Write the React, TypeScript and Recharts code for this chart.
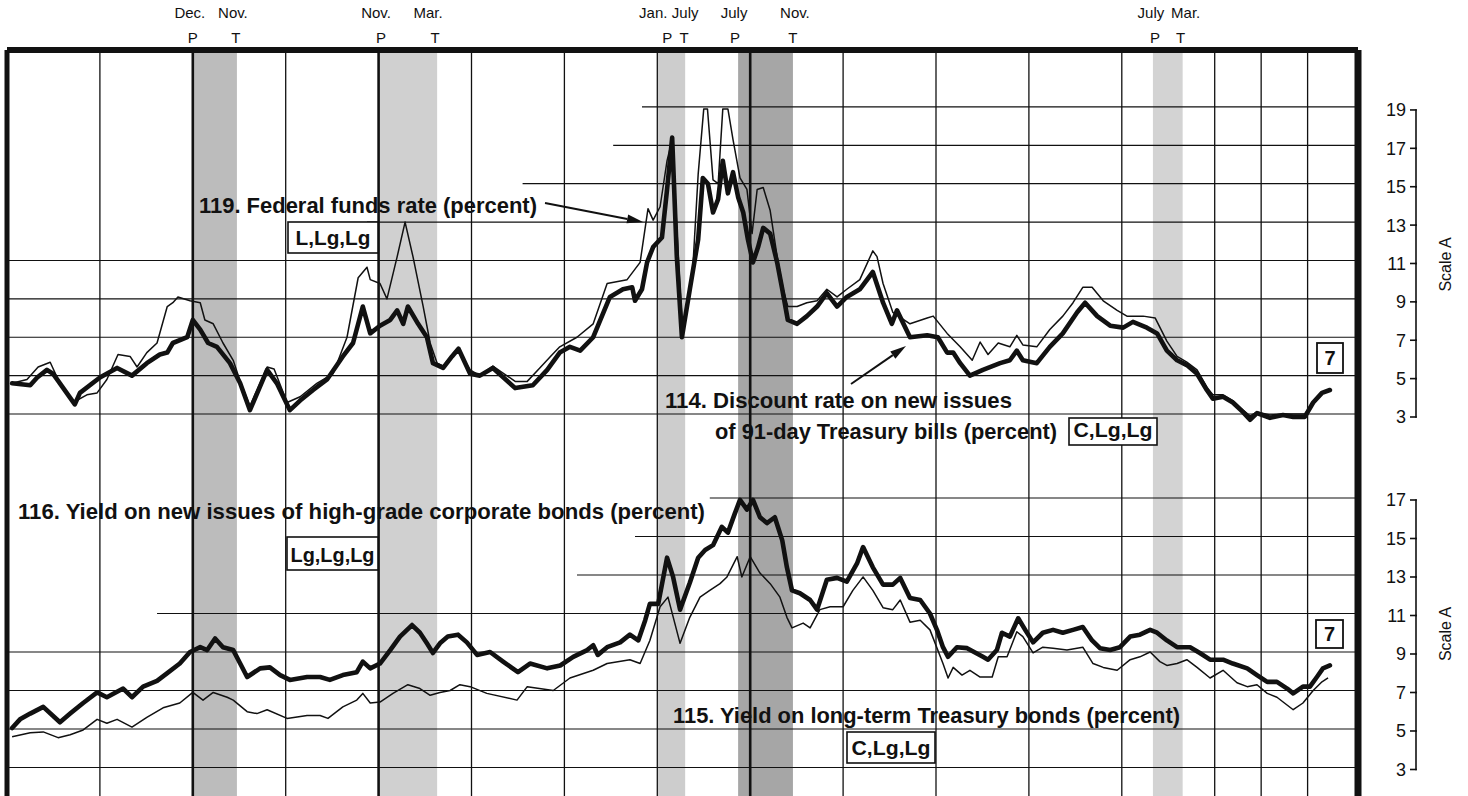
import React from 'react';
import { ComposedChart, Line, XAxis, YAxis, ReferenceLine, ReferenceArea } from 'recharts';

// ---------------- data ----------------
// dates are fractional years
const fedFundsDates = [
  1966.11, 1966.43, 1966.67, 1966.93, 1967.08, 1967.42, 1967.72, 1967.94, 1968.15, 1968.39,
  1968.65, 1968.8, 1969.01, 1969.23, 1969.45, 1969.57, 1969.68, 1969.94, 1970.16, 1970.26,
  1970.44, 1970.65, 1970.87, 1971.02, 1971.23, 1971.6, 1971.75, 1972.03, 1972.31, 1972.67,
  1973.02, 1973.32, 1973.56, 1973.75, 1973.82, 1974.03, 1974.18, 1974.4, 1974.57, 1974.74,
  1974.96, 1975.11, 1975.26, 1975.39, 1975.69, 1975.97, 1976.18, 1976.46, 1976.94, 1977.2,
  1977.47, 1977.7, 1977.9, 1978.27, 1978.62, 1978.92, 1979.35, 1979.63, 1979.8, 1979.91,
  1980.06, 1980.21, 1980.32, 1980.49, 1980.55, 1980.75, 1980.88, 1981.0, 1981.08, 1981.2,
  1981.31, 1981.41, 1981.52, 1981.63, 1981.78, 1981.93, 1982.04, 1982.15, 1982.28, 1982.43,
  1982.58, 1982.71, 1982.81, 1983.01, 1983.22, 1983.44, 1983.65, 1983.87, 1984.08, 1984.36,
  1984.64, 1984.73, 1984.86, 1985.07, 1985.44, 1985.81, 1985.94, 1986.24, 1986.52, 1986.78,
  1986.95, 1987.12, 1987.34, 1987.59, 1987.74, 1987.87, 1988.17, 1988.45, 1988.73, 1988.95,
  1989.16, 1989.36, 1989.6, 1989.9, 1990.11, 1990.46, 1990.72, 1990.97, 1991.19, 1991.4,
  1991.62, 1991.83, 1991.96, 1992.18, 1992.39, 1992.61, 1992.76, 1992.91, 1993.19, 1993.47,
  1993.69, 1993.94, 1994.12, 1994.31, 1994.48,
];
const fedFundsRate = [
  4.6, 4.8, 5.45, 5.7, 4.9, 3.6, 4.0, 4.1, 4.8, 6.1,
  6.0, 5.45, 6.2, 6.7, 8.6, 8.8, 9.1, 8.9, 8.8, 7.9,
  7.7, 6.7, 5.8, 4.7, 3.4, 5.45, 5.35, 3.6, 3.9, 4.6,
  5.1, 7.0, 10.1, 10.65, 10.0, 9.8, 9.0, 11.2, 13.0, 11.2,
  8.6, 6.7, 5.65, 5.5, 6.4, 5.3, 5.0, 5.5, 4.7, 4.7,
  5.4, 6.0, 6.5, 7.0, 7.7, 9.8, 10.0, 10.9, 13.7, 13.1,
  13.8, 16.2, 17.3, 9.5, 7.3, 10.0, 15.5, 18.9, 18.9, 15.2,
  15.0, 18.9, 18.9, 17.3, 15.3, 14.7, 12.4, 14.7, 14.8, 13.6,
  11.2, 9.5, 8.6, 8.6, 8.8, 8.9, 9.5, 9.1, 9.5, 10.0,
  11.5, 11.2, 9.8, 8.3, 7.7, 8.0, 8.1, 7.2, 6.5, 5.8,
  6.75, 6.1, 6.7, 6.5, 7.1, 6.6, 6.5, 7.4, 8.1, 8.8,
  9.6, 9.6, 8.9, 8.4, 8.1, 8.1, 8.0, 6.8, 6.0, 5.7,
  5.3, 4.4, 4.0, 4.0, 3.7, 3.2, 2.9, 3.1, 2.95, 3.0,
  3.0, 3.0, 3.6, 4.1, 4.3,
];

const tBillDates = [
  1966.11, 1966.5, 1966.65, 1966.86, 1966.99, 1967.46, 1967.57, 1968.0, 1968.37, 1968.69,
  1969.01, 1969.29, 1969.45, 1969.57, 1969.88, 1970.0, 1970.16, 1970.33, 1970.52, 1970.8,
  1971.02, 1971.23, 1971.6, 1971.81, 1972.09, 1972.31, 1972.59, 1972.89, 1973.23, 1973.45,
  1973.66, 1973.82, 1974.03, 1974.25, 1974.4, 1974.53, 1974.63, 1974.85, 1975.04, 1975.17,
  1975.39, 1975.58, 1975.72, 1975.97, 1976.18, 1976.46, 1976.94, 1977.32, 1977.63, 1977.9,
  1978.12, 1978.34, 1978.62, 1978.98, 1979.26, 1979.46, 1979.52, 1979.67, 1979.78, 1979.91,
  1980.1, 1980.21, 1980.32, 1980.42, 1980.53, 1980.7, 1980.88, 1980.98, 1981.09, 1981.2,
  1981.31, 1981.41, 1981.52, 1981.63, 1981.74, 1981.85, 1981.95, 1982.06, 1982.17, 1982.28,
  1982.43, 1982.58, 1982.69, 1982.81, 1983.01, 1983.22, 1983.44, 1983.65, 1983.87, 1984.08,
  1984.36, 1984.64, 1984.86, 1985.05, 1985.16, 1985.44, 1985.81, 1986.04, 1986.24, 1986.37,
  1986.52, 1986.73, 1987.01, 1987.38, 1987.59, 1987.74, 1987.87, 1988.17, 1988.45, 1988.73,
  1989.04, 1989.21, 1989.47, 1989.75, 1990.03, 1990.24, 1990.54, 1990.76, 1990.97, 1991.19,
  1991.4, 1991.62, 1991.83, 1991.96, 1992.18, 1992.39, 1992.61, 1992.76, 1992.91, 1993.19,
  1993.47, 1993.69, 1993.94, 1994.12, 1994.31, 1994.48,
];
const tBillRate = [
  4.6, 4.5, 4.9, 5.3, 5.1, 3.5, 4.1, 4.9, 5.4, 5.0,
  5.65, 6.1, 6.2, 6.7, 7.0, 7.9, 7.4, 6.7, 6.5, 5.65,
  4.6, 3.2, 5.3, 4.6, 3.2, 3.7, 4.25, 4.8, 6.0, 6.7,
  8.6, 7.2, 7.6, 7.9, 8.4, 7.7, 8.6, 7.7, 7.0, 5.65,
  5.4, 6.0, 6.4, 5.1, 5.0, 5.4, 4.35, 4.5, 5.3, 6.2,
  6.5, 6.3, 7.0, 9.1, 9.5, 9.6, 8.9, 9.5, 10.9, 11.7,
  12.2, 14.7, 17.4, 11.2, 7.0, 9.5, 12.1, 15.3, 15.0, 13.5,
  14.2, 16.2, 14.5, 15.6, 14.3, 13.5, 12.1, 10.9, 11.7, 12.7,
  12.4, 10.9, 9.5, 7.9, 7.7, 8.1, 8.6, 9.3, 8.6, 9.1,
  9.5, 10.4, 8.8, 7.7, 8.4, 7.0, 7.1, 7.0, 6.2, 6.2,
  5.65, 5.0, 5.3, 5.65, 5.8, 6.3, 5.8, 5.65, 6.5, 7.2,
  8.3, 8.8, 8.1, 7.6, 7.5, 7.8, 7.5, 7.2, 6.3, 5.8,
  5.55, 5.1, 4.25, 3.8, 3.9, 3.6, 3.1, 2.7, 3.05, 2.8,
  2.95, 2.85, 2.85, 3.6, 4.1, 4.25,
];

const corpBondDates = [
  1966.11, 1966.28, 1966.5, 1966.78, 1967.14, 1967.36, 1967.64, 1967.94, 1968.15, 1968.5,
  1968.69, 1968.93, 1969.23, 1969.45, 1969.72, 1969.94, 1970.16, 1970.31, 1970.48, 1970.65,
  1970.87, 1971.02, 1971.17, 1971.45, 1971.66, 1971.88, 1972.09, 1972.46, 1972.74, 1972.95,
  1973.23, 1973.53, 1973.66, 1973.82, 1974.03, 1974.25, 1974.46, 1974.72, 1974.89, 1975.04,
  1975.17, 1975.32, 1975.49, 1975.71, 1975.9, 1976.12, 1976.4, 1976.68, 1977.0, 1977.26,
  1977.63, 1977.91, 1978.19, 1978.49, 1978.62, 1978.72, 1978.92, 1979.2, 1979.41, 1979.59,
  1979.74, 1979.84, 1980.02, 1980.21, 1980.34, 1980.49, 1980.7, 1980.88, 1981.03, 1981.2,
  1981.39, 1981.52, 1981.67, 1981.78, 1981.93, 1982.06, 1982.21, 1982.36, 1982.53, 1982.69,
  1982.79, 1982.9, 1983.07, 1983.29, 1983.44, 1983.65, 1983.87, 1984.08, 1984.3, 1984.43,
  1984.64, 1984.86, 1985.07, 1985.23, 1985.44, 1985.66, 1985.87, 1986.02, 1986.15, 1986.26,
  1986.45, 1986.67, 1987.01, 1987.12, 1987.31, 1987.42, 1987.59, 1987.77, 1987.92, 1988.09,
  1988.3, 1988.52, 1988.73, 1988.95, 1989.16, 1989.36, 1989.53, 1989.75, 1989.96, 1990.18,
  1990.39, 1990.61, 1990.76, 1990.97, 1991.19, 1991.47, 1991.68, 1991.9, 1992.18, 1992.39,
  1992.7, 1992.91, 1993.13, 1993.34, 1993.56, 1993.69, 1993.9, 1994.05, 1994.2, 1994.33,
  1994.48,
];
const corpBondYield = [
  5.05, 5.5, 5.8, 6.15, 5.35, 5.8, 6.35, 6.9, 6.65, 7.1,
  6.65, 7.2, 7.5, 7.9, 8.4, 9.0, 9.25, 9.1, 9.7, 9.25,
  9.1, 8.4, 7.7, 8.15, 8.2, 7.8, 7.55, 7.7, 7.7, 7.55,
  7.8, 7.95, 8.5, 8.15, 8.4, 9.1, 9.8, 10.4, 10.0, 9.45,
  8.95, 9.45, 9.8, 9.9, 9.5, 8.85, 9.0, 8.5, 7.95, 8.4,
  8.15, 8.3, 8.75, 9.1, 9.35, 8.85, 9.25, 9.5, 9.9, 9.6,
  10.65, 11.5, 11.5, 13.9, 12.9, 11.2, 12.6, 13.9, 14.3, 14.55,
  15.5, 15.2, 16.2, 16.9, 16.4, 16.9, 16.0, 15.7, 16.0, 14.8,
  13.4, 12.2, 12.05, 11.7, 11.2, 12.75, 12.85, 12.65, 13.6, 14.45,
  13.4, 12.5, 12.5, 12.85, 11.8, 11.7, 11.0, 10.15, 9.25, 8.75,
  9.25, 9.2, 8.75, 8.6, 9.1, 10.0, 9.8, 10.75, 10.15, 9.5,
  10.0, 10.15, 10.0, 10.15, 10.3, 9.6, 9.2, 9.1, 9.25, 9.8,
  9.9, 10.15, 10.0, 9.6, 9.25, 9.25, 8.95, 8.6, 8.6, 8.4,
  8.15, 7.8, 7.45, 7.45, 7.1, 6.85, 7.2, 7.2, 7.7, 8.15,
  8.3,
];

const treasuryBondDates = [
  1966.11, 1966.5, 1966.78, 1967.1, 1967.36, 1967.64, 1967.94, 1968.15, 1968.37, 1968.69,
  1969.01, 1969.36, 1969.72, 1970.0, 1970.22, 1970.44, 1970.74, 1970.87, 1971.17, 1971.38,
  1971.6, 1972.03, 1972.46, 1972.74, 1972.91, 1973.23, 1973.53, 1973.66, 1973.82, 1974.03,
  1974.31, 1974.63, 1974.89, 1975.11, 1975.32, 1975.54, 1975.75, 1975.97, 1976.33, 1976.98,
  1977.2, 1977.76, 1978.12, 1978.62, 1978.92, 1979.41, 1979.63, 1979.84, 1980.06, 1980.23,
  1980.49, 1980.7, 1980.92, 1981.13, 1981.35, 1981.5, 1981.72, 1981.82, 1982.0, 1982.21,
  1982.43, 1982.64, 1982.79, 1982.9, 1983.14, 1983.29, 1983.5, 1983.72, 1984.0, 1984.21,
  1984.43, 1984.64, 1984.86, 1985.07, 1985.23, 1985.44, 1985.66, 1985.87, 1986.15, 1986.26,
  1986.37, 1986.56, 1986.73, 1986.95, 1987.21, 1987.34, 1987.53, 1987.74, 1987.87, 1988.09,
  1988.3, 1988.52, 1988.82, 1989.16, 1989.38, 1989.6, 1989.9, 1990.18, 1990.39, 1990.61,
  1990.82, 1990.97, 1991.19, 1991.4, 1991.62, 1991.9, 1992.18, 1992.48, 1992.7, 1992.91,
  1993.13, 1993.34, 1993.69, 1993.9, 1994.12, 1994.31, 1994.44,
];
const treasuryBondYield = [
  4.6, 4.8, 4.85, 4.55, 4.7, 4.95, 5.5, 5.3, 5.5, 5.1,
  5.6, 6.1, 6.35, 6.9, 6.5, 6.9, 6.65, 6.5, 5.9, 5.8,
  6.0, 5.55, 5.7, 5.7, 5.55, 6.15, 6.5, 6.85, 6.35, 6.4,
  6.85, 7.3, 7.1, 6.75, 6.9, 7.0, 7.3, 7.2, 6.85, 6.5,
  7.2, 7.0, 7.65, 8.05, 8.4, 8.6, 8.4, 9.6, 11.35, 11.85,
  9.45, 10.8, 11.85, 12.2, 12.55, 12.9, 13.95, 12.9, 13.95, 13.1,
  12.55, 11.85, 10.8, 10.25, 10.5, 10.25, 11.2, 11.35, 11.35, 12.2,
  12.9, 12.2, 11.3, 11.2, 11.7, 10.55, 10.65, 10.15, 8.4, 7.65,
  8.2, 7.8, 8.05, 7.7, 7.7, 8.75, 8.75, 10.05, 9.8, 8.95,
  9.25, 9.2, 9.1, 9.25, 8.4, 8.2, 8.05, 8.6, 8.75, 9.0,
  8.5, 8.3, 8.4, 8.6, 8.2, 7.65, 8.05, 7.4, 7.2, 7.3,
  6.85, 6.65, 6.0, 6.35, 7.0, 7.45, 7.65,
];

// recessions (peak P -> trough T)
const recessionStarts = [1970.0, 1974.03, 1980.0, 1981.74, 1990.67];
const recessionEnds = [1970.95, 1975.26, 1980.6, 1982.92, 1991.31];
const peakMonths = ['Dec.', 'Nov.', 'Jan.', 'July', 'July'];
const troughMonths = ['Nov.', 'Mar.', 'July', 'Nov.', 'Mar.'];
const shadeTones = ['#bcbcbc', '#d0d0d0', '#cdcdcd', '#a6a6a6', '#d3d3d3'];
// small label nudges (px) relative to the shaded band edges
const peakMonthDx = [-3, -4, -4, -4, -2];
const peakLetterDx = [0, 1, 10, -3, 2];
const troughMonthDx = [-4, -9, 0, 2, 3];
const troughLetterDx = [-1, -2, -1, 0, -2];

// grid / axis
const gridYears = [1968, 1970, 1972, 1974, 1976, 1978, 1980, 1982, 1984, 1986, 1988, 1990, 1992, 1993, 1994];
const heavyGridYears = [1970, 1974, 1982];
const topTicks = [3, 5, 7, 9, 11, 13, 15, 17, 19];
const topGridStarts = [1966, 1966, 1966, 1966, 1966, 1973.75, 1977.1, 1979.05, 1979.67];
const bottomTicks = [3, 5, 7, 9, 11, 13, 15, 17];
const bottomGridStarts = [1966, 1966, 1966, 1966, 1969.23, 1978.27, 1979.52, 1981.13];

// ---------------- layout ----------------
const W = 1468;
const H = 796;
const MARGIN = { top: 50, right: 0, bottom: 0, left: 7 };
const AXIS_W = 110;
const PLOT_H = H - MARGIN.top - MARGIN.bottom;
const xDomain: [number, number] = [1966, 1995.085];
const topDomain: [number, number] = [-16.906, 21.968];
const bottomDomain: [number, number] = [1.519, 40.273];
const INK = '#111';
const FONT = "'Liberation Sans', Arial, Helvetica, sans-serif";

const zip = (d: number[], v: number[]) => d.map((x, i) => ({ x, v: v[i] }));
const fedData = zip(fedFundsDates, fedFundsRate);
const billData = zip(tBillDates, tBillRate);
const corpData = zip(corpBondDates, corpBondYield);
const treasData = zip(treasuryBondDates, treasuryBondYield);

function makeScaleTick(domain: [number, number], lowest: number, dy: number, labelAt: number, labelDy: number) {
  const pxPerUnit = PLOT_H / (domain[1] - domain[0]);
  return (props: any) => {
    const { x, y, payload } = props;
    const v = payload.value;
    const ty = y + dy;
    const lx = x + 58;
    return (
      <g>
        <text x={x + 48} y={ty + 6.5} textAnchor="end" fontSize={18} fontFamily={FONT} fill={INK}>
          {v}
        </text>
        <line x1={x + 52} x2={lx + 0.8} y1={ty} y2={ty} stroke={INK} strokeWidth={1.6} />
        {v !== lowest && (
          <line x1={lx} x2={lx} y1={ty - 0.8} y2={ty + 2 * pxPerUnit + 0.8} stroke={INK} strokeWidth={1.6} />
        )}
        {v === labelAt && (
          <text
            transform={`translate(${x + 93},${ty + labelDy}) rotate(-90)`}
            textAnchor="middle"
            fontSize={16}
            fontFamily={FONT}
            fill={INK}
          >
            Scale A
          </text>
        )}
      </g>
    );
  };
}

const topTick = makeScaleTick(topDomain, 3, 3, 11, 1);
const bottomTick = makeScaleTick(bottomDomain, 3, 2, 9, -20);

const recessionLabel = (i: number) => (props: any) => {
  const vb = props.viewBox || {};
  const x0 = vb.x;
  const x1 = vb.x + vb.width;
  const top = vb.y;
  return (
    <g fontFamily={FONT} fontSize={15} fill={INK}>
      <text x={x0 + peakMonthDx[i]} y={top - 32} textAnchor="middle">{peakMonths[i]}</text>
      <text x={x0 + peakLetterDx[i]} y={top - 7} textAnchor="middle">P</text>
      <text x={x1 + troughMonthDx[i]} y={top - 32} textAnchor="middle">{troughMonths[i]}</text>
      <text x={x1 + troughLetterDx[i]} y={top - 7} textAnchor="middle">T</text>
    </g>
  );
};

function Arrow({ x1, y1, x2, y2 }: { x1: number; y1: number; x2: number; y2: number }) {
  const dx = x2 - x1;
  const dy = y2 - y1;
  const L = Math.hypot(dx, dy);
  const ux = dx / L;
  const uy = dy / L;
  const hl = 16;
  const hw = 4.5;
  const bx = x2 - ux * hl;
  const by = y2 - uy * hl;
  const pts = `${x2},${y2} ${bx - uy * hw},${by + ux * hw} ${bx + uy * hw},${by - ux * hw}`;
  return (
    <g>
      <line x1={x1} y1={y1} x2={bx} y2={by} stroke={INK} strokeWidth={2} />
      <polygon points={pts} fill={INK} />
    </g>
  );
}

function CodeBox({ x, y, w, h, text, tl }: { x: number; y: number; w: number; h: number; text: string; tl: number }) {
  return (
    <g>
      <rect x={x} y={y} width={w} height={h} fill="#fff" stroke={INK} strokeWidth={1.6} />
      <text
        x={x + (w - tl) / 2}
        y={y + h - 8}
        fontSize={21}
        fontWeight="bold"
        fontFamily={FONT}
        fill={INK}
        textLength={tl}
        lengthAdjust="spacingAndGlyphs"
      >
        {text}
      </text>
    </g>
  );
}

function Annotations() {
  const t = { fontSize: 22, fontWeight: 'bold' as const, fontFamily: FONT, fill: INK, lengthAdjust: 'spacingAndGlyphs' };
  return (
    <svg width={W} height={H} style={{ position: 'absolute', left: 0, top: 0, pointerEvents: 'none' }}>
      <text x={199} y={213} textLength={338} {...t}>119. Federal funds rate (percent)</text>
      <text x={665} y={408} textLength={347} {...t}>114. Discount rate on new issues</text>
      <text x={715} y={439} textLength={342} {...t}>of 91-day Treasury bills (percent)</text>
      <text x={18} y={519} textLength={687} {...t}>116. Yield on new issues of high-grade corporate bonds (percent)</text>
      <text x={673} y={723} textLength={507} {...t}>115. Yield on long-term Treasury bonds (percent)</text>

      <CodeBox x={288} y={222} w={90} h={31} text="L,Lg,Lg" tl={75} />
      <CodeBox x={1069} y={418} w={88} h={27} text="C,Lg,Lg" tl={79} />
      <CodeBox x={287} y={537} w={91} h={33} text="Lg,Lg,Lg" tl={84} />
      <CodeBox x={847} y={732} w={88} h={31} text="C,Lg,Lg" tl={79} />

      <Arrow x1={545} y1={203} x2={643} y2={222} />
      <Arrow x1={851} y1={384} x2={906} y2={346} />

      <rect x={1317} y={343} width={26} height={30} fill="#fff" stroke={INK} strokeWidth={1.8} />
      <text x={1330} y={365} textAnchor="middle" fontSize={20} fontWeight="bold" fontFamily={FONT} fill={INK}>7</text>
      <rect x={1316} y={620} width={27} height={28} fill="#fff" stroke={INK} strokeWidth={1.8} />
      <text x={1329.5} y={641} textAnchor="middle" fontSize={20} fontWeight="bold" fontFamily={FONT} fill={INK}>7</text>
    </svg>
  );
}

export default function App() {
  return (
    <div style={{ position: 'absolute', left: 0, top: 0, width: W, height: H, background: '#fff', overflow: 'hidden' }}>
      {/* upper panel: money market rates, plus frame, grid and recession shading */}
      <div style={{ position: 'absolute', left: 0, top: 0 }}>
        <ComposedChart width={W} height={H} margin={MARGIN}>
          <XAxis type="number" dataKey="x" domain={xDomain} allowDataOverflow hide />
          <YAxis
            type="number"
            orientation="right"
            domain={topDomain}
            allowDataOverflow
            ticks={topTicks}
            interval={0}
            tick={topTick}
            tickLine={false}
            axisLine={false}
            tickSize={0}
            tickMargin={0}
            width={AXIS_W}
          />
          {recessionStarts.map((s, i) => (
            <ReferenceArea
              key={`rec${i}`}
              x1={s}
              x2={recessionEnds[i]}
              fill={shadeTones[i]}
              fillOpacity={1}
              stroke="none"
              label={recessionLabel(i)}
            />
          ))}
          {gridYears.map((yr) => (
            <ReferenceLine
              key={`vg${yr}`}
              x={yr}
              stroke={INK}
              strokeWidth={heavyGridYears.includes(yr) ? 2.6 : 1.3}
            />
          ))}
          {topTicks.map((v, i) => (
            <ReferenceLine
              key={`hg${v}`}
              segment={[
                { x: topGridStarts[i], y: v },
                { x: xDomain[1], y: v },
              ]}
              stroke={INK}
              strokeWidth={1.2}
            />
          ))}
          <ReferenceLine x={xDomain[0]} stroke={INK} strokeWidth={5} />
          <ReferenceLine x={xDomain[1]} stroke={INK} strokeWidth={7} />
          <ReferenceLine y={topDomain[1]} stroke={INK} strokeWidth={6} />
          <Line
            data={fedData}
            dataKey="v"
            type="linear"
            dot={false}
            stroke={INK}
            strokeWidth={1.5}
            strokeLinejoin="round"
            isAnimationActive={false}
          />
          <Line
            data={billData}
            dataKey="v"
            type="linear"
            dot={false}
            stroke={INK}
            strokeWidth={4.6}
            strokeLinejoin="round"
            strokeLinecap="round"
            isAnimationActive={false}
          />
        </ComposedChart>
      </div>

      {/* lower panel: bond yields */}
      <div style={{ position: 'absolute', left: 0, top: 0 }}>
        <ComposedChart width={W} height={H} margin={MARGIN}>
          <XAxis type="number" dataKey="x" domain={xDomain} allowDataOverflow hide />
          <YAxis
            type="number"
            orientation="right"
            domain={bottomDomain}
            allowDataOverflow
            ticks={bottomTicks}
            interval={0}
            tick={bottomTick}
            tickLine={false}
            axisLine={false}
            tickSize={0}
            tickMargin={0}
            width={AXIS_W}
          />
          {bottomTicks.map((v, i) => (
            <ReferenceLine
              key={`bg${v}`}
              segment={[
                { x: bottomGridStarts[i], y: v },
                { x: xDomain[1], y: v },
              ]}
              stroke={INK}
              strokeWidth={1.2}
            />
          ))}
          <Line
            data={treasData}
            dataKey="v"
            type="linear"
            dot={false}
            stroke={INK}
            strokeWidth={1.5}
            strokeLinejoin="round"
            isAnimationActive={false}
          />
          <Line
            data={corpData}
            dataKey="v"
            type="linear"
            dot={false}
            stroke={INK}
            strokeWidth={4.6}
            strokeLinejoin="round"
            strokeLinecap="round"
            isAnimationActive={false}
          />
        </ComposedChart>
      </div>

      <Annotations />
    </div>
  );
}
